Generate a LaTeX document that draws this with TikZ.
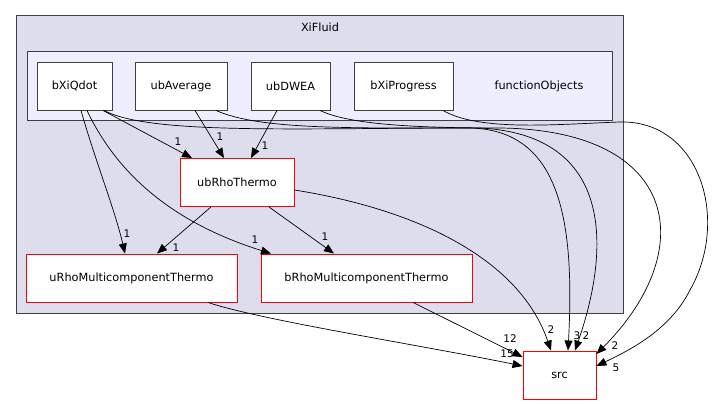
\documentclass[tikz,border=0pt]{standalone}
\usepackage{fontspec}
\setmainfont{DejaVu Sans}
\usetikzlibrary{arrows.meta}
\definecolor{clusterfill}{HTML}{DDDDEE}
\definecolor{innerfill}{HTML}{EEEEFF}
\definecolor{framegray}{HTML}{404040}

\begin{document}
\begin{tikzpicture}[x=1pt, y=-1pt,
    dirbox/.style={draw=framegray, fill=white, line width=0.9pt, minimum height=48pt,
      inner sep=0pt, font=\fontsize{11.3}{13}\selectfont},
    redbox/.style={dirbox, draw=red},
    dep/.style={-{Triangle[length=10pt,width=8pt]}, line width=0.7pt},
    num/.style={font=\fontsize{10.5}{12}\selectfont, inner sep=0pt}]

    \useasboundingbox (0,0) rectangle (716,404);

    % clusters
    \draw[framegray, fill=clusterfill, line width=1pt] (16,16) rectangle (623,313);
    \node[font=\fontsize{11.3}{13}\selectfont] (xifluid) at (320,27) {XiFluid};
    \draw[framegray, fill=innerfill, line width=1pt] (27,52) rectangle (612,121);
    \node[font=\fontsize{11.3}{13}\selectfont] (fobj) at (539,86) {functionObjects};

    % directories
    \node[dirbox, minimum width=75pt] (bXiQdot) at (74.5,86) {bXiQdot};
    \node[dirbox, minimum width=92pt] (ubAverage) at (181,86) {ubAverage};
    \node[dirbox, minimum width=79pt] (ubDWEA) at (290.5,86) {ubDWEA};
    \node[dirbox, minimum width=99pt] (bXiProgress) at (403.5,86) {bXiProgress};
    \node[redbox, minimum width=114pt] (ubRho) at (237,182.5) {ubRhoThermo};
    \node[redbox, minimum width=211pt] (uRhoMC) at (131.5,278) {uRhoMulticomponentThermo};
    \node[redbox, minimum width=211pt] (bRhoMC) at (366.5,278) {bRhoMulticomponentThermo};
    \node[redbox, minimum width=73pt] (src) at (559.5,375) {src};

    % dependencies inside XiFluid
    \draw[dep] ([xshift=28.5pt]bXiQdot.south) -- ([xshift=-45pt]ubRho.north)
        node[num] at (178,142) {1};
    \draw[dep] ([xshift=14pt]ubAverage.south) -- ([xshift=-13pt]ubRho.north)
        node[num] at (220,137) {1};
    \draw[dep] ([xshift=-13.5pt]ubDWEA.south) -- ([xshift=14pt]ubRho.north)
        node[num] at (265,146) {1};
    \draw[dep] ([xshift=6.5pt]bXiQdot.south) .. controls (95,160) and (115,210) .. ([xshift=-6.5pt]uRhoMC.north)
        node[num] at (127,234) {1};
    \draw[dep] ([xshift=12.5pt]bXiQdot.south) .. controls (120,180) and (180,225) .. ([xshift=-95.5pt]bRhoMC.north)
        node[num] at (255,240) {1};
    \draw[dep] ([xshift=-26pt]ubRho.south) -- ([xshift=25.5pt]uRhoMC.north)
        node[num] at (176,248) {1};
    \draw[dep] ([xshift=32pt]ubRho.south) -- ([xshift=-32.5pt]bRhoMC.north)
        node[num] at (325,237) {1};

    % dependencies on src
    \draw[dep] ([yshift=-7.5pt]ubRho.east) .. controls (420,210) and (520,260) .. ([xshift=-8.5pt]src.north)
        node[num] at (551,330) {2};
    \draw[dep] ([xshift=76.5pt]uRhoMC.south) .. controls (260,320) and (420,345) .. ([yshift=9pt]src.west)
        node[num] at (507,354) {15};
    \draw[dep] ([xshift=46.5pt]bRhoMC.south) -- ([yshift=18pt]src.west)
        node[num] at (510,339) {12};
    \draw[dep] ([xshift=29.5pt]bXiQdot.south) .. controls (150,135) and (300,128) .. (470,128)
        .. controls (560,130) and (575,220) .. ([xshift=8.5pt]src.north)
        node[num] at (577,336) {3};
    \draw[dep] ([xshift=35pt]ubAverage.south) .. controls (260,130) and (350,128) .. (480,128)
        .. controls (615,135) and (610,250) .. ([xshift=15.5pt]src.north)
        node[num] at (586,336) {2};
    \draw[dep] ([xshift=29.5pt]ubDWEA.south) .. controls (350,125) and (420,128) .. (500,128)
        .. controls (680,130) and (700,250) .. ([yshift=21pt]src.east)
        node[num] at (615,346) {2};
    \draw[dep] ([xshift=39.5pt]bXiProgress.south) .. controls (480,132) and (560,124) .. (620,122)
        .. controls (700,120) and (730,220) .. (690,290)
        .. controls (670,330) and (630,350) .. ([yshift=9pt]src.east)
        node[num] at (616,368) {5};
\end{tikzpicture}
\end{document}
